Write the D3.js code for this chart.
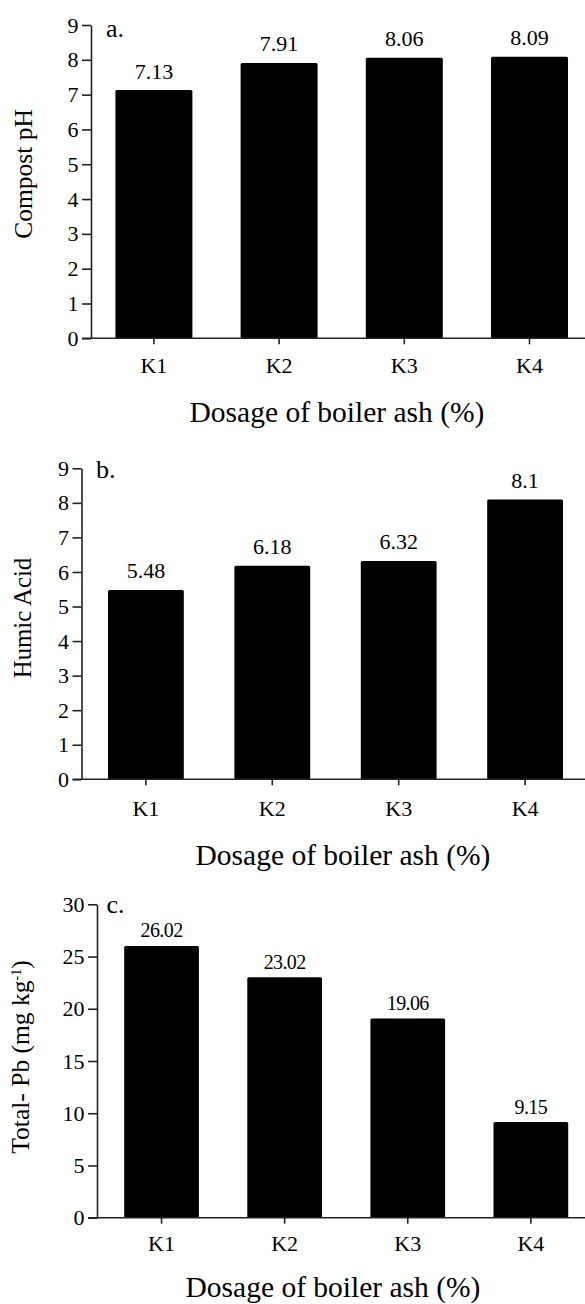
<!DOCTYPE html>
<html>
<head>
<meta charset="utf-8">
<script src="https://cdn.jsdelivr.net/npm/d3@7/dist/d3.min.js"></script>
<style>
  html, body { margin: 0; padding: 0; background: #fff; }
  svg { display: block; }
  text { font-family: "Liberation Serif", "Times New Roman", serif; fill: #000; }
</style>
</head>
<body>
<script>
// ---------- data ----------
const categories = ["K1", "K2", "K3", "K4"];
const phValues = [7.13, 7.91, 8.06, 8.09];
const humicValues = [5.48, 6.18, 6.32, 8.1];
const pbValues = [26.02, 23.02, 19.06, 9.15];
const phTicks = [0, 1, 2, 3, 4, 5, 6, 7, 8, 9];
const humicTicks = [0, 1, 2, 3, 4, 5, 6, 7, 8, 9];
const pbTicks = [0, 5, 10, 15, 20, 25, 30];
const panelLetters = ["a.", "b.", "c."];
const yTitles = ["Compost pH", "Humic Acid", "Total- Pb (mg kg"];
const xTitle = "Dosage of boiler ash (%)";

// ---------- layout (positions / sizes only) ----------
const W = 585, H = 1304;
const layouts = [
  { axisX: 91, y0: 338.3, yTop: 25, band0: 91.3, step: 125.2, pad: 0.385,
    letterX: 106, letterY: 37, kY: 373, titleX: 337, titleY: 421.5,
    yTitleX: 32, yTitleY: 174, yTitleSize: 25.5, valGap: 11.5, valSize: 22, tickSize: 22 },
  { axisX: 81.5, y0: 779.3, yTop: 468.3, band0: 82.7, step: 126.4, pad: 0.4,
    letterX: 96, letterY: 478, kY: 816.5, titleX: 343, titleY: 865,
    yTitleX: 31, yTitleY: 618, yTitleSize: 24.8, valGap: 11.5, valSize: 22, tickSize: 22 },
  { axisX: 97, y0: 1217.7, yTop: 904.3, band0: 100, step: 123.1, pad: 0.393,
    letterX: 106.5, letterY: 913, kY: 1251.5, titleX: 333, titleY: 1297,
    yTitleX: 28.5, yTitleY: 1057, yTitleSize: 25.5, valGap: 8.5, valSize: 20, tickSize: 22 }
];
const series = [phValues, humicValues, pbValues];
const tickSets = [phTicks, humicTicks, pbTicks];

const svg = d3.select("body").append("svg")
  .attr("width", W).attr("height", H)
  .attr("viewBox", `0 0 ${W} ${H}`);

series.forEach((vals, i) => {
  const L = layouts[i];
  const ticks = tickSets[i];
  const g = svg.append("g");

  const x = d3.scaleBand()
    .domain(categories)
    .range([L.band0, L.band0 + L.step * categories.length])
    .paddingInner(L.pad)
    .paddingOuter(L.pad / 2);

  const y = d3.scaleLinear()
    .domain([0, d3.max(ticks)])
    .range([L.y0, L.yTop]);

  // bars
  g.selectAll("rect.bar")
    .data(vals)
    .join("rect")
    .attr("class", "bar")
    .attr("x", (d, j) => x(categories[j]))
    .attr("width", x.bandwidth())
    .attr("y", d => y(d))
    .attr("height", d => y(0) - y(d))
    .attr("rx", 1.5)
    .attr("fill", "#000");

  // value labels
  g.selectAll("text.val")
    .data(vals)
    .join("text")
    .attr("class", "val")
    .attr("x", (d, j) => x(categories[j]) + x.bandwidth() / 2)
    .attr("y", d => y(d) - L.valGap)
    .attr("text-anchor", "middle")
    .attr("font-size", L.valSize)
    .attr("letter-spacing", i === 2 ? -0.6 : 0)
    .text(d => String(d));

  // y axis
  const yAxis = g.append("g")
    .attr("transform", `translate(${L.axisX},0)`)
    .call(d3.axisLeft(y).tickValues(ticks).tickSize(9).tickSizeOuter(0).tickPadding(3.5)
      .tickFormat(d3.format("d")));
  yAxis.select(".domain").attr("stroke", "#222").attr("stroke-width", 1.6);
  yAxis.selectAll(".tick line").attr("stroke", "#222").attr("stroke-width", 1.6);
  yAxis.selectAll(".tick text")
    .attr("font-family", "Liberation Serif")
    .attr("font-size", L.tickSize)
    .attr("fill", "#000");

  // x axis
  const xAxis = g.append("g")
    .attr("transform", `translate(0,${L.y0})`)
    .call(d3.axisBottom(x).tickSize(6).tickSizeOuter(0));
  xAxis.select(".domain").remove();
  xAxis.selectAll(".tick line").attr("stroke", "#222").attr("stroke-width", 1.6);
  xAxis.selectAll(".tick text")
    .attr("font-family", "Liberation Serif")
    .attr("font-size", 22)
    .attr("fill", "#000")
    .attr("dy", 0)
    .attr("y", L.kY - L.y0);
  g.append("line")
    .attr("x1", L.axisX - 9).attr("x2", W)
    .attr("y1", L.y0).attr("y2", L.y0)
    .attr("stroke", "#222").attr("stroke-width", 1.6);

  // panel letter
  g.append("text")
    .attr("x", L.letterX).attr("y", L.letterY)
    .attr("font-size", 26)
    .text(panelLetters[i]);

  // x title
  g.append("text")
    .attr("x", L.titleX).attr("y", L.titleY)
    .attr("text-anchor", "middle")
    .attr("font-size", 29.5)
    .text(xTitle);

  // y title
  const yt = g.append("text")
    .attr("transform", `translate(${L.yTitleX},${L.yTitleY}) rotate(-90)`)
    .attr("text-anchor", "middle")
    .attr("font-size", L.yTitleSize)
    .text(yTitles[i]);
  if (i === 2) {
    yt.append("tspan").attr("dy", -8).attr("font-size", 14).text("-1");
    yt.append("tspan").attr("dy", 8).text(")");
  }
});
</script>
</body>
</html>
